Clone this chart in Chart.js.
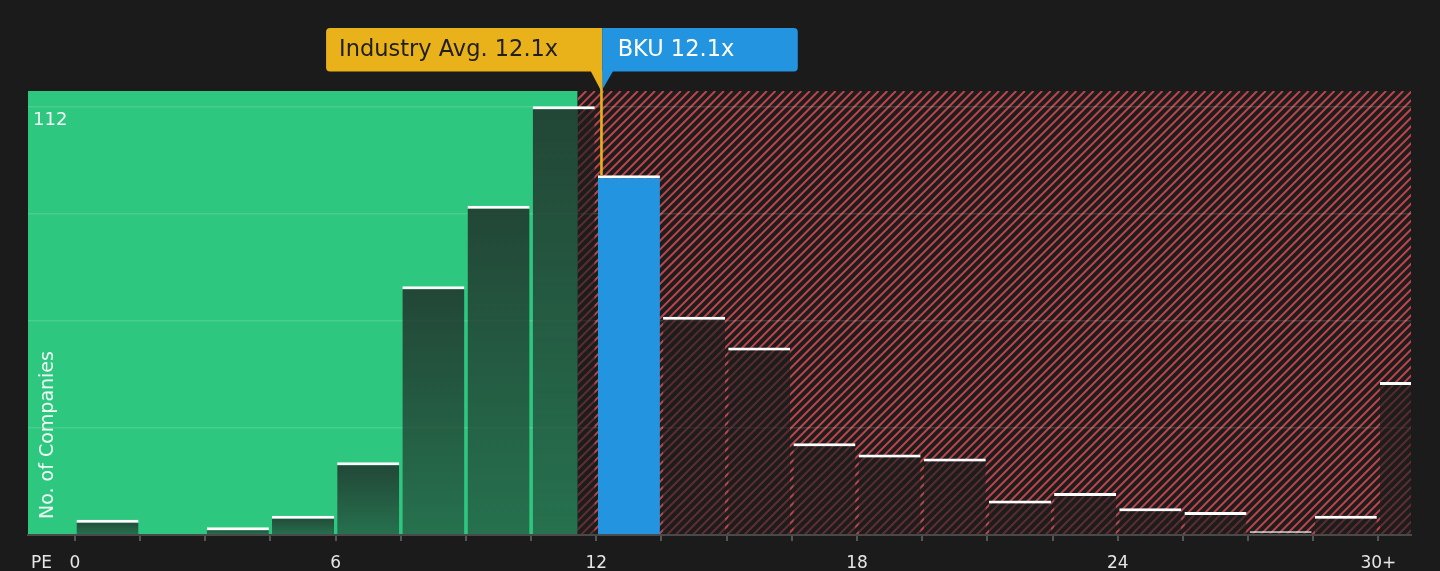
<!DOCTYPE html>
<html>
<head>
<meta charset="utf-8">
<script src="https://cdn.jsdelivr.net/npm/chart.js@4.4.1/dist/chart.umd.min.js"></script>
<style>
html,body{margin:0;padding:0;background:#1b1b1b;overflow:hidden;}
#wrap{width:1440px;height:571px;position:relative;}
</style>
</head>
<body>
<div id="wrap"><canvas id="c" width="1440" height="571"></canvas></div>
<script>
// ---- data ----
const binCenters = [0.75, 2.25, 3.75, 5.25, 6.75, 8.25, 9.75, 11.25, 12.75, 14.25, 15.75,
                    17.25, 18.75, 20.25, 21.75, 23.25, 24.75, 26.25, 27.75, 29.25, 30.75];
const companyCounts = [4, 0, 2, 5, 19, 65, 86, 112, 94, 57, 49, 24, 21, 20, 9, 11, 7, 6, 1, 5, 40];
const tickEdges = [0, 1.5, 3, 4.5, 6, 7.5, 9, 10.5, 12, 13.5, 15, 16.5, 18, 19.5, 21, 22.5, 24, 25.5, 27, 28.5, 30];
const tickLabels = {0: '0', 6: '6', 12: '12', 18: '18', 24: '24', 30: '30+'};
const yGridValues = [0, 28, 56, 84, 112];
const yLabelValues = [112];
const industryAvgPE = 12.1;
const companyPE = 12.1;
const companyName = 'BKU';
const greenZoneEnd = 11.57;
const highlightIndex = 8;
const binHalfWidth = 0.75;
const xMin = -1.08, xMax = 30.75, yMax = 116;

const FONT = "'DejaVu Sans', sans-serif";
Chart.defaults.font.family = FONT;

const GREEN = '#2dc77f';
const YELLOW = '#e9b11a';
const BLUE = '#2394e0';
const HATCH = '#bd444b';
const GREEN_BAR_TOP = 'rgba(33,56,46,0.9)';
const GREEN_BAR_BOT = 'rgba(33,56,46,0.6)';
const RED_BAR_TOP = 'rgba(28,28,28,0.64)';
const RED_BAR_BOT = 'rgba(28,28,28,0.56)';

const zonesPlugin = {
  id: 'zones',
  beforeDraw(chart) {
    const {ctx, chartArea, scales} = chart;
    const {left, right, top, bottom} = chartArea;
    ctx.save();
    ctx.fillStyle = '#1b1b1b';
    ctx.fillRect(0, 0, chart.width, chart.height);
    const xg = scales.x.getPixelForValue(greenZoneEnd);
    ctx.fillStyle = GREEN;
    ctx.fillRect(left, top, xg - left, bottom - top);
    ctx.fillStyle = '#1d1d1d';
    ctx.fillRect(xg, top, right - xg, bottom - top);
    ctx.beginPath();
    ctx.rect(xg, top, right - xg, bottom - top);
    ctx.clip();
    ctx.strokeStyle = HATCH;
    ctx.lineWidth = 2;
    const h = bottom - top;
    ctx.beginPath();
    for (let k = xg - h; k < right + 10; k += 8.6) {
      ctx.moveTo(k, bottom);
      ctx.lineTo(k + h, top);
    }
    ctx.stroke();
    ctx.restore();
  }
};

const annotPlugin = {
  id: 'annot',
  afterDraw(chart) {
    const {ctx, chartArea, scales} = chart;
    const xa = scales.x.getPixelForValue(industryAvgPE);
    const xc = scales.x.getPixelForValue(companyPE);
    const barTop = scales.y.getPixelForValue(companyCounts[highlightIndex]);
    const boxTop = 28, boxBot = 71.5;
    ctx.save();
    // y axis title
    ctx.fillStyle = 'rgba(255,255,255,0.92)';
    ctx.font = '19px ' + FONT;
    ctx.textAlign = 'left';
    ctx.textBaseline = 'middle';
    ctx.save();
    ctx.translate(48, 519);
    ctx.rotate(-Math.PI / 2);
    ctx.fillText('No. of Companies', 0, 0);
    ctx.restore();
    // PE label
    ctx.fillStyle = '#e6e6e6';
    ctx.font = '17px ' + FONT;
    ctx.fillText('PE', 31, 564);

    // average line
    ctx.fillStyle = YELLOW;
    ctx.fillRect(xa - 0.5, boxBot - 1, 2.6, barTop - boxBot + 1);

    ctx.font = '22.5px ' + FONT;
    const t1 = 'Industry Avg. ' + industryAvgPE.toFixed(1) + 'x';
    const t2 = companyName + ' ' + companyPE.toFixed(1) + 'x';
    const w1 = ctx.measureText(t1).width + 57;
    const w2 = ctx.measureText(t2).width + 79;
    const yRight = xa + 1.5;
    // yellow box
    ctx.fillStyle = YELLOW;
    ctx.beginPath();
    ctx.roundRect(yRight - w1, boxTop, w1, boxBot - boxTop, [4, 0, 0, 4]);
    ctx.fill();
    ctx.beginPath();
    ctx.moveTo(xa - 10, boxBot - 0.5);
    ctx.lineTo(xa + 1.5, boxBot - 0.5);
    ctx.lineTo(xa + 0.5, chartArea.top);
    ctx.closePath();
    ctx.fill();
    // blue box
    const bLeft = xc + 1.5;
    ctx.fillStyle = BLUE;
    ctx.beginPath();
    ctx.roundRect(bLeft, boxTop, w2, boxBot - boxTop, [0, 4, 4, 0]);
    ctx.fill();
    ctx.beginPath();
    ctx.moveTo(bLeft, boxBot - 0.5);
    ctx.lineTo(bLeft + 11, boxBot - 0.5);
    ctx.lineTo(bLeft + 0.5, chartArea.top - 2);
    ctx.closePath();
    ctx.fill();
    // texts
    ctx.textBaseline = 'middle';
    ctx.textAlign = 'left';
    ctx.fillStyle = '#1f1f1f';
    ctx.fillText(t1, yRight - w1 + 13, 50.5);
    ctx.fillStyle = '#ffffff';
    ctx.fillText(t2, bLeft + 15.5, 50.5);
    ctx.restore();
  }
};

function vGrad(g2d, top, base, c0, c1) {
  const g = g2d.createLinearGradient(0, top, 0, Math.max(base, top + 1));
  g.addColorStop(0, c0);
  g.addColorStop(1, c1);
  return g;
}

function barFill(c) {
  if (c.type !== 'data') return 'rgba(0,0,0,0)';
  const i = c.dataIndex;
  if (i === highlightIndex) return BLUE;
  const chart = c.chart;
  if (!chart.chartArea || !chart.scales.y) return RED_BAR_TOP;
  const ys = chart.scales.y, xs = chart.scales.x;
  const top = ys.getPixelForValue(companyCounts[i]);
  const base = ys.getPixelForValue(0);
  const lo = binCenters[i] - binHalfWidth, hi = binCenters[i] + binHalfWidth;
  if (hi <= greenZoneEnd) return vGrad(chart.ctx, top, base, GREEN_BAR_TOP, GREEN_BAR_BOT);
  if (lo >= greenZoneEnd) return vGrad(chart.ctx, top, base, RED_BAR_TOP, RED_BAR_BOT);
  // bar straddles the zone boundary: build a pattern with both fills
  const off = document.createElement('canvas');
  off.width = chart.width; off.height = chart.height;
  const o = off.getContext('2d');
  const xg = xs.getPixelForValue(greenZoneEnd);
  o.fillStyle = vGrad(o, top, base, GREEN_BAR_TOP, GREEN_BAR_BOT);
  o.fillRect(0, 0, xg, chart.height);
  o.fillStyle = vGrad(o, top, base, RED_BAR_TOP, RED_BAR_BOT);
  o.fillRect(xg, 0, chart.width - xg, chart.height);
  return chart.ctx.createPattern(off, 'no-repeat');
}

new Chart(document.getElementById('c'), {
  type: 'bar',
  data: {
    datasets: [{
      data: binCenters.map((x, i) => ({x: x, y: companyCounts[i]})),
      backgroundColor: barFill,
      borderColor: '#ffffff',
      borderWidth: {top: 3, right: 0, bottom: 0, left: 0},
      borderSkipped: 'start',
      barPercentage: 1,
      categoryPercentage: 0.952
    }]
  },
  options: {
    responsive: false,
    animation: false,
    events: [],
    layout: {padding: {left: 28, right: 29, top: 91, bottom: 0}},
    plugins: {legend: {display: false}, tooltip: {enabled: false}},
    scales: {
      x: {
        type: 'linear',
        min: xMin,
        max: xMax,
        offset: false,
        afterBuildTicks: s => { s.ticks = tickEdges.map(v => ({value: v})); },
        afterFit: s => { s.height = 36; s.paddingLeft = 0; s.paddingRight = 0; },
        grid: {display: true, offset: false, drawOnChartArea: false, drawTicks: true, tickLength: 6, color: '#555555', lineWidth: 2},
        border: {display: true, color: '#4a4a4a', width: 2},
        ticks: {
          autoSkip: false, maxRotation: 0, minRotation: 0,
          color: '#e6e6e6', font: {size: 17, lineHeight: 1}, padding: 14,
          callback: v => (tickLabels[v] !== undefined ? tickLabels[v] : '')
        }
      },
      y: {
        type: 'linear',
        min: 0,
        max: yMax,
        afterBuildTicks: s => { s.ticks = yGridValues.map(v => ({value: v})); },
        afterFit: s => { s.width = 0; s.paddingTop = 0; s.paddingBottom = 0; },
        grid: {color: 'rgba(255,255,255,0.13)', lineWidth: 1.5, drawTicks: false},
        border: {display: false},
        ticks: {
          mirror: true, padding: 5, labelOffset: 14,
          color: '#f2f2f2', font: {size: 18},
          callback: v => (yLabelValues.includes(v) ? String(v) : '')
        }
      }
    }
  },
  plugins: [zonesPlugin, annotPlugin]
});
</script>
</body>
</html>
